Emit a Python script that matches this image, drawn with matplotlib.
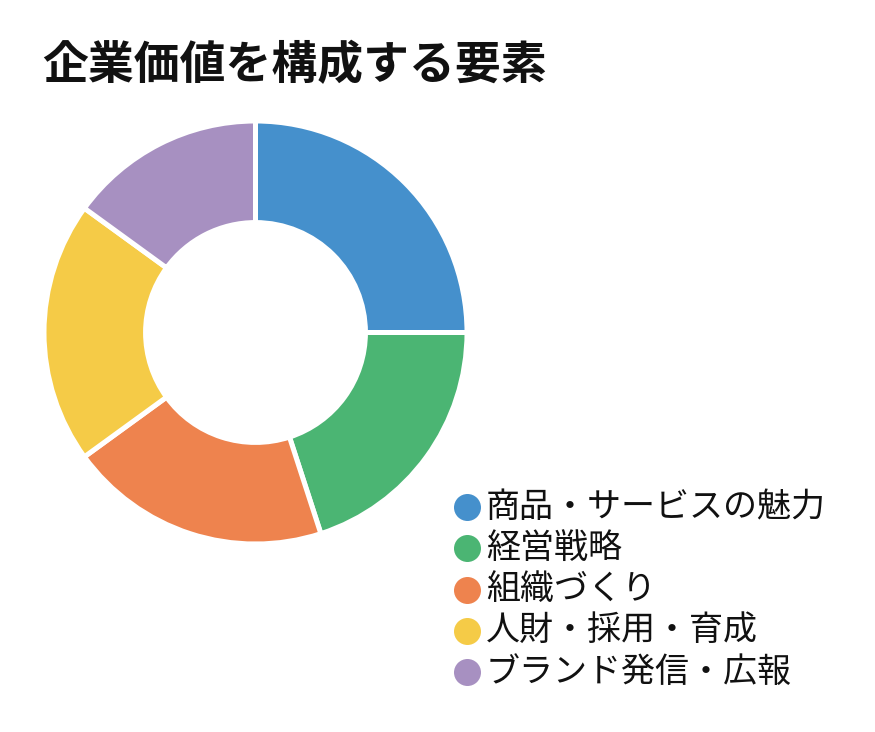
import matplotlib
matplotlib.use("Agg")
import matplotlib.pyplot as plt

plt.rcParams['font.family'] = ['Noto Sans CJK JP', 'DejaVu Sans']

title = "企業価値を構成する要素"
labels = ["商品・サービスの魅力", "経営戦略", "組織づくり", "人財・採用・育成", "ブランド発信・広報"]
values = [25, 20, 20, 20, 15]
colors = ["#4590CC", "#4BB573", "#EE834E", "#F5CB47", "#A790C1"]

W, H = 875, 732
fig = plt.figure(figsize=(W / 100, H / 100), dpi=100)

cx, cy, r = 255.5, 332.5, 209
ax = fig.add_axes([(cx - r) / W, (H - cy - r) / H, 2 * r / W, 2 * r / H])
ax.pie(values, colors=colors, startangle=90, counterclock=False, radius=1.012,
       wedgeprops=dict(width=0.486, edgecolor="white", linewidth=3.6))
ax.set_xlim(-1, 1)
ax.set_ylim(-1, 1)
ax.set_aspect("equal")
ax.axis("off")

# overlay in pixel coordinates for title and legend
ov = fig.add_axes([0, 0, 1, 1])
ov.set_xlim(0, W)
ov.set_ylim(H, 0)
ov.axis("off")

ov.text(42, 66, title, fontsize=33, fontweight="bold",
        ha="left", va="center", color="#111111")

row0, step = 507, 41.3
for i, (lab, col) in enumerate(zip(labels, colors)):
    y = row0 + i * step
    ov.scatter([466.5], [y], s=(27 * 0.72) ** 2, color=col, linewidths=0)
    ov.text(486, y, lab, fontsize=24.5, ha="left", va="center", color="#111111")

fig.savefig("out.png", dpi=100, facecolor="white")
